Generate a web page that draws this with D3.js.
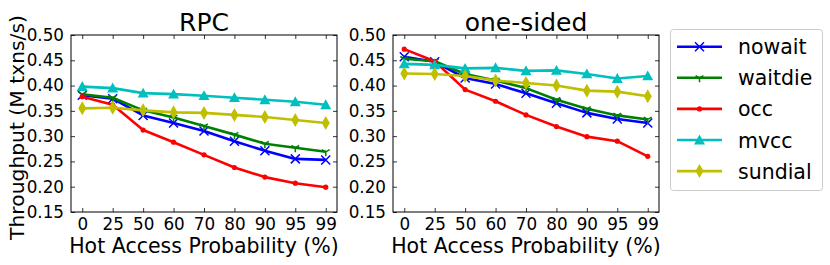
<!DOCTYPE html>
<html>
<head>
<meta charset="utf-8">
<script src="https://cdn.jsdelivr.net/npm/d3@7"></script>
<style>
  body { margin: 0; background: #fff; }
  svg text { font-family: "DejaVu Sans", sans-serif; fill: #000; }
</style>
</head>
<body>
<div id="chart"></div>
<script>
var categories = ["0", "25", "50", "60", "70", "80", "90", "95", "99"];
var yTicks = [0.15, 0.20, 0.25, 0.30, 0.35, 0.40, 0.45, 0.50];
var seriesNames = ["nowait", "waitdie", "occ", "mvcc", "sundial"];

// RPC panel
var rpcNowait  = [0.381, 0.374, 0.341, 0.326, 0.310, 0.290, 0.271, 0.255, 0.253];
var rpcWaitdie = [0.383, 0.376, 0.351, 0.337, 0.320, 0.303, 0.285, 0.277, 0.269];
var rpcOcc     = [0.378, 0.362, 0.312, 0.288, 0.263, 0.238, 0.219, 0.207, 0.199];
var rpcMvcc    = [0.398, 0.395, 0.385, 0.383, 0.380, 0.376, 0.372, 0.368, 0.362];
var rpcSundial = [0.355, 0.356, 0.351, 0.347, 0.346, 0.342, 0.338, 0.332, 0.326];

// one-sided panel
var osNowait  = [0.457, 0.447, 0.415, 0.403, 0.385, 0.365, 0.346, 0.334, 0.326];
var osWaitdie = [0.453, 0.448, 0.423, 0.410, 0.395, 0.372, 0.354, 0.341, 0.333];
var osOcc     = [0.472, 0.448, 0.392, 0.369, 0.342, 0.319, 0.299, 0.290, 0.260];
var osMvcc    = [0.443, 0.441, 0.434, 0.435, 0.429, 0.430, 0.423, 0.414, 0.419];
var osSundial = [0.424, 0.423, 0.419, 0.410, 0.405, 0.400, 0.390, 0.388, 0.379];

var colors = { nowait: "#0000ff", waitdie: "#008000", occ: "#ff0000", mvcc: "#00bfbf", sundial: "#bfbf00" };

var width = 830, height = 265;
var svg = d3.select("#chart").append("svg")
    .attr("width", width)
    .attr("height", height);

// marker drawing, roughly matplotlib's x, 1, ., ^, d
function drawMarker(g, name, x, y, c) {
    if (name === "nowait") {
        var s = 4.5;
        g.append("path")
            .attr("d", "M" + (x - s) + "," + (y - s) + "L" + (x + s) + "," + (y + s) +
                       "M" + (x - s) + "," + (y + s) + "L" + (x + s) + "," + (y - s))
            .attr("stroke", c).attr("stroke-width", 1.5).attr("fill", "none");
    } else if (name === "waitdie") {
        var r = 4.5;
        g.append("path")
            .attr("d", "M" + x + "," + y + "L" + x + "," + (y + r) +
                       "M" + x + "," + y + "L" + (x - r * 0.87) + "," + (y - r * 0.5) +
                       "M" + x + "," + y + "L" + (x + r * 0.87) + "," + (y - r * 0.5))
            .attr("stroke", c).attr("stroke-width", 1.5).attr("fill", "none");
    } else if (name === "occ") {
        g.append("circle").attr("cx", x).attr("cy", y).attr("r", 2.6).attr("fill", c);
    } else if (name === "mvcc") {
        var t = 5.5;
        g.append("path")
            .attr("d", "M" + x + "," + (y - t) + "L" + (x + t) + "," + (y + t * 0.8) +
                       "L" + (x - t) + "," + (y + t * 0.8) + "Z")
            .attr("fill", c);
    } else {
        var w = 4, h = 7;
        g.append("path")
            .attr("d", "M" + x + "," + (y - h) + "L" + (x + w) + "," + y +
                       "L" + x + "," + (y + h) + "L" + (x - w) + "," + y + "Z")
            .attr("fill", c);
    }
}

function panel(left, title, data, showYLabel) {
    var top = 35, bottom = 212, right = left + 266;
    var x = d3.scalePoint().domain(categories).range([left, right]).padding(0.37);
    var y = d3.scaleLinear().domain([0.15, 0.50]).range([bottom, top]);
    var g = svg.append("g");

    g.append("rect")
        .attr("x", left).attr("y", top)
        .attr("width", right - left).attr("height", bottom - top)
        .attr("fill", "#fff");

    // ticks inward, classic style
    var yAxis = g.append("g").attr("transform", "translate(" + left + ",0)")
        .call(d3.axisLeft(y).tickValues(yTicks).tickFormat(d3.format(".2f")).tickSize(-4).tickPadding(7));
    var yAxisR = g.append("g").attr("transform", "translate(" + right + ",0)")
        .call(d3.axisRight(y).tickValues(yTicks).tickFormat("").tickSize(-4));
    var xAxis = g.append("g").attr("transform", "translate(0," + bottom + ")")
        .call(d3.axisBottom(x).tickSize(-4).tickPadding(6));
    var xAxisT = g.append("g").attr("transform", "translate(0," + top + ")")
        .call(d3.axisTop(x).tickFormat("").tickSize(-4));
    [yAxis, yAxisR, xAxis, xAxisT].forEach(function (a) {
        a.select(".domain").remove();
        a.selectAll("line").attr("stroke", "#000").attr("stroke-width", 0.8);
    });
    yAxis.selectAll("text").style("font-size", "16.8px").style("font-family", "DejaVu Sans");
    xAxis.selectAll("text").style("font-size", "16.8px").style("font-family", "DejaVu Sans");

    seriesNames.forEach(function (name, i) {
        var vals = data[i];
        var line = d3.line()
            .x(function (d, j) { return x(categories[j]); })
            .y(function (d) { return y(d); });
        g.append("path")
            .datum(vals)
            .attr("d", line)
            .attr("fill", "none")
            .attr("stroke", colors[name])
            .attr("stroke-width", 2.6)
            .attr("stroke-linejoin", "round");
        var mg = g.append("g");
        vals.forEach(function (v, j) {
            drawMarker(mg, name, x(categories[j]), y(v), colors[name]);
        });
    });

    g.append("rect")
        .attr("x", left).attr("y", top)
        .attr("width", right - left).attr("height", bottom - top)
        .attr("fill", "none").attr("stroke", "#000").attr("stroke-width", 1);

    g.append("text")
        .attr("x", (left + right) / 2).attr("y", 30.5)
        .attr("text-anchor", "middle")
        .style("font-size", "25px")
        .text(title);

    g.append("text")
        .attr("x", (left + right) / 2).attr("y", 252.5)
        .attr("text-anchor", "middle")
        .style("font-size", "20.5px")
        .text("Hot Access Probability (%)");

    if (showYLabel) {
        g.append("text")
            .attr("transform", "translate(24," + ((top + bottom) / 2 + 4) + ") rotate(-90)")
            .attr("text-anchor", "middle")
            .style("font-size", "20.3px")
            .text("Throughput (M txns/s)");
    }
}

panel(71, "RPC", [rpcNowait, rpcWaitdie, rpcOcc, rpcMvcc, rpcSundial], true);
panel(393, "one-sided", [osNowait, osWaitdie, osOcc, osMvcc, osSundial], false);

// legend
var lg = svg.append("g");
lg.append("rect")
    .attr("x", 670.5).attr("y", 29.5)
    .attr("width", 152).attr("height", 161)
    .attr("rx", 3)
    .attr("fill", "#fff").attr("stroke", "#cccccc").attr("stroke-width", 1);
seriesNames.forEach(function (name, i) {
    var yy = 46.7 + i * 31.1;
    lg.append("line")
        .attr("x1", 677).attr("x2", 722)
        .attr("y1", yy).attr("y2", yy)
        .attr("stroke", colors[name]).attr("stroke-width", 2.6);
    drawMarker(lg, name, 699.5, yy, colors[name]);
    lg.append("text")
        .attr("x", 738).attr("y", yy + 7.5)
        .style("font-size", "20.5px")
        .text(name);
});
</script>
</body>
</html>
